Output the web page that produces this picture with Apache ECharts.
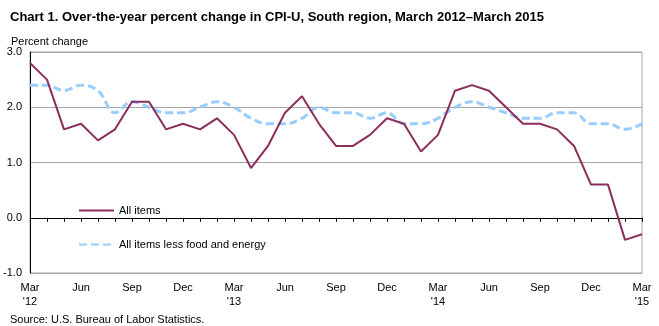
<!DOCTYPE html>
<html><head><meta charset="utf-8">
<script src="https://cdn.jsdelivr.net/npm/echarts@6/dist/echarts.min.js"></script>
<style>html,body{margin:0;padding:0;background:#fff}#c{width:659px;height:326px}</style>
</head><body><div id="c"></div>
<script>
const months = ["Mar\n'12","Apr","May","Jun","Jul","Aug","Sep","Oct","Nov","Dec",
"Jan","Feb","Mar\n'13","Apr","May","Jun","Jul","Aug","Sep","Oct","Nov","Dec",
"Jan","Feb","Mar\n'14","Apr","May","Jun","Jul","Aug","Sep","Oct","Nov","Dec",
"Jan","Feb","Mar\n'15"];
const allItems = [2.8,2.5,1.6,1.7,1.4,1.6,2.1,2.1,1.6,1.7,1.6,1.8,1.5,0.9,1.3,1.9,2.2,1.7,1.3,1.3,1.5,1.8,1.7,1.2,1.5,2.3,2.4,2.3,2.0,1.7,1.7,1.6,1.3,0.6,0.6,-0.4,-0.3];
const core = [2.4,2.4,2.3,2.4,2.3,1.9,2.1,2.0,1.9,1.9,2.0,2.1,2.0,1.8,1.7,1.7,1.8,2.0,1.9,1.9,1.8,1.9,1.7,1.7,1.8,2.0,2.1,2.0,1.9,1.8,1.8,1.9,1.9,1.7,1.7,1.6,1.7];
const yTicks = {min:-1, max:3, interval:1};

const chart = echarts.init(document.getElementById('c'), null, {renderer:'canvas'});
const font = 'Arial, "Liberation Sans", sans-serif';
chart.setOption({
  animation:false,
  textStyle:{fontFamily:font},
  title:[
    {text:'Chart 1. Over-the-year percent change in CPI-U, South region, March 2012\u2013March 2015',
     left:5, top:6, textStyle:{fontSize:13, fontWeight:'bold', color:'#000', fontFamily:font}},
    {text:'Percent change', left:6, top:31, textStyle:{fontSize:11, fontWeight:'normal', color:'#000', fontFamily:font}},
    {text:'Source: U.S. Bureau of Labor Statistics.', left:5, top:309, textStyle:{fontSize:11, fontWeight:'normal', color:'#000', fontFamily:font}}
  ],
  grid:{left:30, right:17, top:52, bottom:53, show:true, borderColor:'#a6a6a6', borderWidth:1},
  legend:{
    orient:'vertical', left:73, top:200, itemWidth:35, itemHeight:10, itemGap:23,
    textStyle:{fontSize:11, color:'#000', fontFamily:font},
    data:[{name:'All items', itemStyle:{opacity:0}},{name:'All items less food and energy', itemStyle:{opacity:0}}]
  },
  xAxis:{
    type:'category', boundaryGap:false, data:months,
    axisLine:{lineStyle:{color:'#000', width:1}},
    axisTick:{interval:0, length:4, lineStyle:{color:'#000'}},
    axisLabel:{interval:2, color:'#000', fontSize:11, lineHeight:14, margin:8, fontFamily:font},
    splitLine:{show:false}
  },
  yAxis:{
    type:'value', min:yTicks.min, max:yTicks.max, interval:yTicks.interval,
    axisLine:{show:true, lineStyle:{color:'#000', width:1}},
    axisTick:{show:false},
    axisLabel:{color:'#000', fontSize:11, margin:8, formatter:v=>v.toFixed(1), fontFamily:font},
    splitLine:{lineStyle:{color:'#a6a6a6', width:1}}
  },
  series:[
    {name:'All items', type:'line', data:allItems, symbol:'none', z:3,
     lineStyle:{color:'#8c2e5c', width:2}, itemStyle:{color:'#8c2e5c'}},
    {name:'All items less food and energy', type:'line', data:core, symbol:'none', smooth:0.4, z:2,
     lineStyle:{color:'#99ccff', width:3, type:[8,4]}, itemStyle:{color:'#99ccff'}}
  ]
});
</script></body></html>
